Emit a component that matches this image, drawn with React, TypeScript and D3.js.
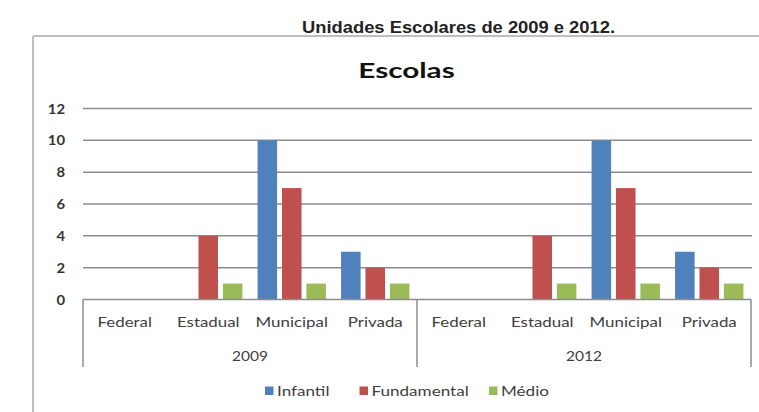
import React from "react";
import * as d3 from "d3";

const years = ["2009", "2012"];
const categories = ["Federal", "Estadual", "Municipal", "Privada"];
const series = ["Infantil", "Fundamental", "Médio"];
const colors = ["#4F81BD", "#C0504D", "#9BBB59"];
// values[category][series]
const values2009 = [
  [0, 0, 0],
  [0, 4, 1],
  [10, 7, 1],
  [3, 2, 1],
];
const values2012 = [
  [0, 0, 0],
  [0, 4, 1],
  [10, 7, 1],
  [3, 2, 1],
];
const yTicks = [0, 2, 4, 6, 8, 10, 12];

const W = 759;
const H = 412;

function SText(props: {
  x: number;
  y: number;
  sx: number;
  anchor?: string;
  size: number;
  weight?: string;
  fill: string;
  family: string;
  children: React.ReactNode;
}) {
  return (
    <text
      transform={`translate(${props.x},${props.y}) scale(${props.sx},1)`}
      textAnchor={props.anchor || "start"}
      fontSize={props.size}
      fontWeight={props.weight || "normal"}
      fill={props.fill}
      fontFamily={props.family}
    >
      {props.children}
    </text>
  );
}

export default function App() {
  const left = 83;
  const right = 751;
  const top = 108.5;
  const bottom = 299.5;
  const allVals = [values2009, values2012];
  const keys: string[] = [];
  years.forEach((yr) => categories.forEach((c) => keys.push(yr + "|" + c)));

  const y = d3.scaleLinear().domain([0, 12]).range([bottom, top]);
  const xYear = d3.scaleBand<string>().domain(years).range([left, right]);
  const x0 = d3.scaleBand<string>().domain(keys).range([left, right]);
  const x1 = d3
    .scaleBand<string>()
    .domain(series)
    .range([0, x0.bandwidth()])
    .paddingInner(0.2)
    .paddingOuter(0.31);

  const font = "Lato, 'Open Sans', sans-serif";
  const textColor = "#404040";
  const legendX = [265, 359.5, 489];

  return (
    <svg
      width={W}
      height={H}
      style={{ position: "absolute", left: 0, top: 0, background: "#fff" }}
    >
      <rect x={0} y={0} width={W} height={H} fill="#fff" />
      <text
        x={302}
        y={33}
        textLength={313}
        lengthAdjust="spacingAndGlyphs"
        fontFamily="'Liberation Sans', Arial, sans-serif"
        fontWeight="bold"
        fontSize={16}
        fill="#222"
      >
        Unidades Escolares de 2009 e 2012.
      </text>
      {/* frame */}
      <line x1={33} y1={36} x2={W} y2={36} stroke="#aaa" strokeWidth={1.5} />
      <line x1={33} y1={36} x2={33} y2={H} stroke="#aaa" strokeWidth={1.5} />
      <SText
        x={406.5}
        y={78}
        sx={1.38}
        anchor="middle"
        size={21.5}
        weight="bold"
        fill="#111"
        family={font}
      >
        Escolas
      </SText>
      {/* gridlines */}
      {yTicks.map((t) => (
        <g key={t}>
          {t > 0 && (
            <line
              x1={left}
              x2={right + 1}
              y1={y(t)}
              y2={y(t)}
              stroke="#8c8c8c"
              strokeWidth={1.5}
            />
          )}
          <SText
            x={65}
            y={y(t) + 5}
            sx={1.1}
            anchor="end"
            size={13.5}
            weight="bold"
            fill="#333"
            family={font}
          >
            {t}
          </SText>
        </g>
      ))}
      {/* bars */}
      {years.map((yr, yi) =>
        categories.map((c, ci) =>
          series.map((s, si) => {
            const v = allVals[yi][ci][si];
            if (v === 0) return null;
            const bx = (x0(yr + "|" + c) as number) + (x1(s) as number);
            return (
              <rect
                key={yr + c + s}
                x={bx}
                y={y(v)}
                width={x1.bandwidth()}
                height={bottom - y(v)}
                fill={colors[si]}
              />
            );
          })
        )
      )}
      {/* x axis */}
      <line
        x1={left}
        x2={right}
        y1={bottom}
        y2={bottom}
        stroke="#8c8c8c"
        strokeWidth={1.5}
      />
      {[left, xYear("2012") as number, right].map((vx, i) => (
        <line
          key={i}
          x1={vx}
          x2={vx}
          y1={bottom}
          y2={367}
          stroke="#8c8c8c"
          strokeWidth={1.5}
        />
      ))}
      {keys.map((k) => {
        const c = k.split("|")[1];
        return (
          <SText
            key={k}
            x={(x0(k) as number) + x0.bandwidth() / 2}
            y={326.5}
            sx={1.3}
            anchor="middle"
            size={13}
            fill={textColor}
            family={font}
          >
            {c}
          </SText>
        );
      })}
      {years.map((yr) => (
        <SText
          key={yr}
          x={(xYear(yr) as number) + xYear.bandwidth() / 2}
          y={361}
          sx={1.15}
          anchor="middle"
          size={13.5}
          fill={textColor}
          family={font}
        >
          {yr}
        </SText>
      ))}
      {/* legend */}
      {series.map((s, i) => {
        const lx = legendX[i];
        return (
          <g key={s}>
            <rect x={lx} y={386.5} width={8.5} height={8.5} fill={colors[i]} />
            <SText
              x={lx + 12}
              y={396}
              sx={1.22}
              size={14}
              fill={textColor}
              family={font}
            >
              {s}
            </SText>
          </g>
        );
      })}
    </svg>
  );
}
